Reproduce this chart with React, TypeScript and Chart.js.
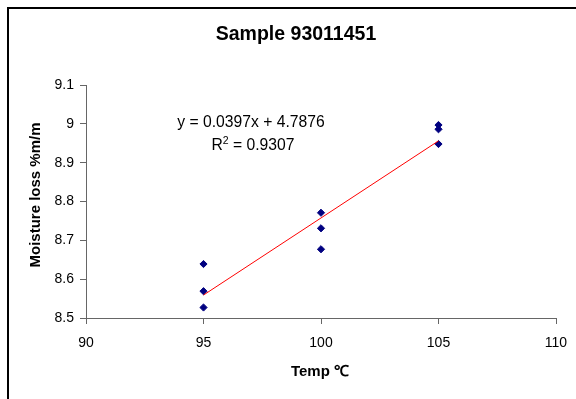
import React, { useEffect, useRef } from 'react';
import { Chart, registerables } from 'chart.js';

Chart.register(...registerables);

// ---- data ----
const tempC = [95, 95, 95, 100, 100, 100, 105, 105, 105];
const moistureLoss = [8.639, 8.569, 8.527, 8.771, 8.731, 8.677, 8.997, 8.986, 8.948];
const trendSlope = 0.0397;
const trendIntercept = 4.7876;
const trendXRange = [95, 105];
const xTickRange = [90, 110];
const xTickStep = 5;
const yTickRange = [8.5, 9.1];
const yTickStep = 0.1;
const titleText = 'Sample 93011451';
const xTitleText = 'Temp ℃';
const yTitleText = 'Moisture loss %m/m';
const equationText = 'y = 0.0397x + 4.7876';
const r2Value = '0.9307';

const FONT = '"Liberation Sans", Arial, sans-serif';

const textPlugin = {
  id: 'textPlugin',
  afterDraw(chart: any) {
    const ctx = chart.ctx as CanvasRenderingContext2D;
    ctx.save();
    // outer frame (left + top edges visible)
    ctx.strokeStyle = '#000';
    ctx.lineWidth = 2;
    ctx.beginPath();
    ctx.moveTo(8, 399);
    ctx.lineTo(8, 8);
    ctx.lineTo(576, 8);
    ctx.stroke();

    ctx.fillStyle = '#000';
    ctx.textBaseline = 'alphabetic';
    // title
    ctx.font = `bold 19.5px ${FONT}`;
    ctx.textAlign = 'center';
    ctx.fillText(titleText, 296, 40);

    // x title
    ctx.font = `bold 15px ${FONT}`;
    ctx.fillText(xTitleText, 320, 376);

    // y title
    ctx.save();
    ctx.translate(40, 195);
    ctx.rotate(-Math.PI / 2);
    ctx.fillText(yTitleText, 0, 0);
    ctx.restore();

    // equation
    ctx.font = `15.7px ${FONT}`;
    ctx.fillText(equationText, 251, 127);

    // R^2 line
    const rest = ' = ' + r2Value;
    ctx.font = `15.7px ${FONT}`;
    const wR = ctx.measureText('R').width;
    const wRest = ctx.measureText(rest).width;
    ctx.font = `10.5px ${FONT}`;
    const wSup = ctx.measureText('2').width;
    const total = wR + wSup + wRest;
    const x0 = 253 - total / 2;
    ctx.textAlign = 'left';
    ctx.font = `15.7px ${FONT}`;
    ctx.fillText('R', x0, 150);
    ctx.font = `10.5px ${FONT}`;
    ctx.fillText('2', x0 + wR, 144);
    ctx.font = `15.7px ${FONT}`;
    ctx.fillText(rest, x0 + wR + wSup, 150);
    ctx.restore();
  },
};

export default function App() {
  const ref = useRef<HTMLCanvasElement | null>(null);

  useEffect(() => {
    if (!ref.current) return;
    const points = tempC.map((t, i) => ({ x: t, y: moistureLoss[i] }));
    const trend = trendXRange.map((t) => ({ x: t, y: trendSlope * t + trendIntercept }));

    const chart = new Chart(ref.current, {
      type: 'scatter',
      data: {
        datasets: [
          {
            type: 'line',
            data: trend,
            borderColor: '#ff0000',
            borderWidth: 1,
            pointRadius: 0,
            fill: false,
          } as any,
          {
            data: points,
            pointStyle: 'rectRot',
            pointRadius: 3.6,
            backgroundColor: '#000080',
            borderColor: '#000080',
            borderWidth: 1,
          },
        ],
      },
      options: {
        animation: false,
        responsive: false,
        maintainAspectRatio: false,
        layout: { padding: { top: 85, right: 20, left: 0, bottom: 0 } },
        plugins: {
          legend: { display: false },
          tooltip: { enabled: false },
          title: { display: false },
        },
        scales: {
          x: {
            type: 'linear',
            min: xTickRange[0],
            max: xTickRange[1],
            afterFit: (s: any) => {
              s.height = 81;
            },
            ticks: {
              stepSize: xTickStep,
              color: '#000',
              padding: 6,
              font: { family: FONT, size: 14, lineHeight: 1.9 },
            },
            grid: {
              display: true,
              drawOnChartArea: false,
              drawTicks: true,
              tickLength: 6,
              tickColor: '#666',
            },
            border: { display: true, color: '#666', width: 1 },
          },
          y: {
            type: 'linear',
            min: yTickRange[0],
            max: yTickRange[1],
            afterFit: (s: any) => {
              s.width = 86;
            },
            ticks: {
              stepSize: yTickStep,
              color: '#000',
              padding: 6,
              font: { family: FONT, size: 14 },
              callback: (v: any) => String(Math.round(Number(v) * 10) / 10),
            },
            grid: {
              display: true,
              drawOnChartArea: false,
              drawTicks: true,
              tickLength: 6,
              tickColor: '#666',
            },
            border: { display: true, color: '#666', width: 1 },
          },
        },
      },
      plugins: [textPlugin],
    });
    return () => chart.destroy();
  }, []);

  return (
    <div style={{ position: 'fixed', left: 0, top: 0, width: 576, height: 399, background: '#fff' }}>
      <canvas ref={ref} width={576} height={399} style={{ width: 576, height: 399, display: 'block' }} />
    </div>
  );
}
